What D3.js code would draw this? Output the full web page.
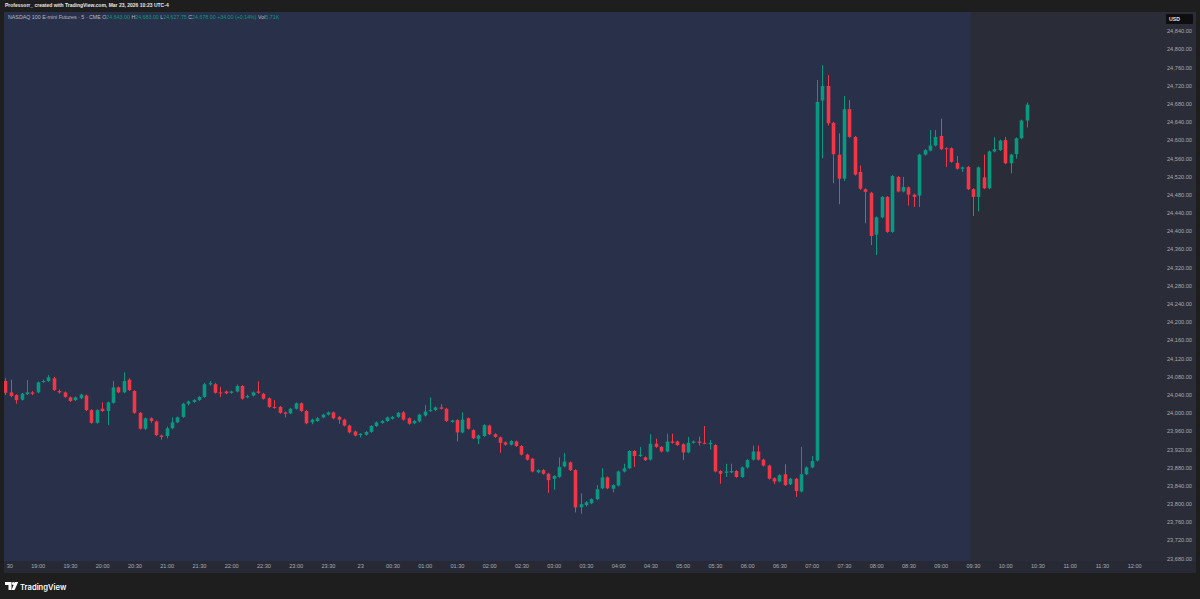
<!DOCTYPE html>
<html>
<head>
<meta charset="utf-8">
<script src="https://cdn.jsdelivr.net/npm/d3@7"></script>
<style>
  body { margin: 0; background: #1e1e1e; }
  svg { display: block; font-family: "Liberation Sans", Arial, sans-serif; }
</style>
</head>
<body>
<div id="chart"></div>
<script>
// 5 minute candles, first bar 18:30 (Mar 22), last bar 10:20 (Mar 23)
var opens = [
  24070, 24045, 24039, 24029, 24041, 24045, 24045, 24068, 24070, 24076,
  24048, 24045, 24034, 24028, 24032, 24038, 24006, 23978, 24009, 24004,
  24022, 24056, 24045, 24073, 24048, 24000, 23965, 23988, 23981, 23950,
  23949, 23966, 23979, 23991, 24020, 24024, 24028, 24035, 24063, 24063,
  24045, 24047, 24044, 24047, 24059, 24034, 24038, 24047, 24042, 24032,
  24013, 24013, 24001, 23999, 24009, 24021, 24004, 23979, 23982, 23990,
  23996, 24001, 23991, 23985, 23972, 23959, 23951, 23952, 23958, 23971,
  23978, 23982, 23987, 23991, 24001, 23988, 23977, 23981, 23994, 24004,
  24006, 24012, 24009, 23980, 23984, 23957, 23988, 23962, 23943, 23949,
  23972, 23953, 23946, 23935, 23930, 23937, 23927, 23908, 23899, 23869,
  23874, 23866, 23855, 23859, 23882, 23891, 23874, 23792, 23797, 23801,
  23810, 23834, 23858, 23833, 23840, 23871, 23878, 23916, 23905, 23902,
  23897, 23932, 23925, 23915, 23937, 23937, 23931, 23913, 23934, 23937,
  23934, 23931, 23929, 23872, 23868, 23869, 23872, 23859, 23880, 23897,
  23915, 23897, 23884, 23856, 23849, 23865, 23843, 23855, 23827, 23865,
  23880, 23895, 24687, 24719, 24638, 24568, 24515, 24668, 24607, 24530,
  24492, 24484, 24392, 24430, 24475, 24398, 24519, 24487, 24496, 24480,
  24478, 24568, 24577, 24588, 24609, 24582, 24582, 24550, 24537, 24541,
  24492, 24475, 24518, 24494, 24575, 24578, 24600, 24549, 24569, 24604,
  24643
];
var highs = [
  24076, 24073, 24041, 24044, 24072, 24048, 24069, 24073, 24083, 24079,
  24051, 24047, 24036, 24036, 24042, 24040, 24008, 24008, 24023, 24025,
  24070, 24058, 24089, 24076, 24050, 24002, 23990, 23990, 23983, 23952,
  23970, 23990, 23992, 24022, 24027, 24030, 24037, 24066, 24070, 24066,
  24057, 24049, 24049, 24062, 24061, 24040, 24047, 24069, 24044, 24034,
  24028, 24015, 24003, 24011, 24023, 24023, 24006, 23987, 23991, 23998,
  24003, 24003, 23993, 23987, 23974, 23961, 23955, 23960, 23973, 23981,
  23984, 23992, 23993, 24002, 24004, 23990, 23984, 23998, 24017, 24034,
  24014, 24019, 24011, 23985, 23986, 24001, 23990, 23964, 23952, 23975,
  23974, 23955, 23948, 23937, 23940, 23939, 23929, 23910, 23901, 23876,
  23876, 23868, 23863, 23902, 23912, 23893, 23876, 23823, 23806, 23812,
  23841, 23878, 23860, 23843, 23873, 23888, 23918, 23918, 23925, 23904,
  23953, 23943, 23927, 23954, 23954, 23939, 23933, 23947, 23939, 23948,
  23971, 23940, 23931, 23874, 23888, 23888, 23874, 23882, 23898, 23928,
  23928, 23899, 23886, 23858, 23865, 23887, 23857, 23857, 23925, 23882,
  23905, 24732, 24765, 24743, 24640, 24615, 24697, 24688, 24609, 24544,
  24494, 24486, 24432, 24477, 24477, 24523, 24521, 24519, 24498, 24482,
  24570, 24580, 24622, 24622, 24647, 24584, 24584, 24565, 24542, 24543,
  24494, 24542, 24568, 24577, 24606, 24601, 24607, 24570, 24606, 24645,
  24683
];
var lows = [
  24039, 24034, 24020, 24027, 24039, 24039, 24043, 24066, 24068, 24048,
  24042, 24033, 24024, 24026, 24030, 24004, 23976, 23976, 24002, 23973,
  24020, 24043, 24043, 24048, 23998, 23963, 23962, 23978, 23949, 23941,
  23944, 23964, 23977, 23989, 24016, 24022, 24026, 24033, 24060, 24042,
  24035, 24041, 24042, 24045, 24029, 24032, 24036, 24042, 24029, 24011,
  24009, 23998, 23990, 23997, 24007, 24002, 23975, 23975, 23980, 23988,
  23994, 23986, 23976, 23970, 23955, 23948, 23946, 23950, 23956, 23969,
  23976, 23980, 23985, 23989, 23983, 23974, 23975, 23979, 23992, 24002,
  24004, 24007, 23980, 23978, 23937, 23955, 23963, 23942, 23931, 23947,
  23951, 23945, 23912, 23928, 23928, 23925, 23906, 23895, 23869, 23867,
  23864, 23824, 23831, 23857, 23880, 23872, 23781, 23778, 23794, 23799,
  23808, 23832, 23832, 23825, 23838, 23869, 23876, 23881, 23903, 23894,
  23895, 23923, 23913, 23913, 23932, 23927, 23896, 23911, 23932, 23928,
  23931, 23919, 23869, 23844, 23859, 23867, 23857, 23857, 23877, 23895,
  23895, 23882, 23853, 23843, 23847, 23839, 23841, 23815, 23825, 23863,
  23878, 23893, 24560, 24632, 24505, 24459, 24510, 24605, 24522, 24490,
  24417, 24369, 24347, 24428, 24396, 24396, 24485, 24485, 24456, 24453,
  24453, 24566, 24575, 24586, 24578, 24541, 24550, 24535, 24530, 24490,
  24433, 24443, 24492, 24492, 24573, 24576, 24547, 24527, 24559, 24602,
  24627.75
];
var closes = [
  24044, 24037, 24028, 24042, 24045, 24042, 24067, 24070, 24078, 24050,
  24045, 24035, 24026, 24034, 24040, 24006, 23978, 24006, 24004, 24023,
  24056, 24045, 24070, 24050, 24000, 23965, 23988, 23982, 23951, 23947,
  23966, 23979, 23990, 24020, 24025, 24028, 24035, 24063, 24065, 24044,
  24044, 24043, 24047, 24059, 24031, 24037, 24045, 24044, 24031, 24013,
  24012, 24000, 23998, 24009, 24021, 24004, 23977, 23985, 23988, 23996,
  24001, 23988, 23985, 23972, 23957, 23950, 23954, 23958, 23971, 23979,
  23982, 23990, 23991, 24000, 23985, 23976, 23982, 23996, 24003, 24006,
  24012, 24009, 23982, 23983, 23957, 23985, 23965, 23944, 23950, 23973,
  23953, 23947, 23934, 23930, 23938, 23927, 23908, 23897, 23871, 23874,
  23866, 23852, 23861, 23881, 23893, 23874, 23792, 23799, 23803, 23810,
  23832, 23858, 23834, 23841, 23871, 23878, 23916, 23905, 23908, 23896,
  23932, 23925, 23915, 23937, 23934, 23929, 23913, 23934, 23937, 23934,
  23933, 23934, 23871, 23866, 23871, 23872, 23859, 23880, 23896, 23915,
  23897, 23884, 23855, 23849, 23863, 23841, 23855, 23828, 23865, 23880,
  23894, 24684, 24719, 24637, 24569, 24515, 24668, 24607, 24524, 24493,
  24486, 24389, 24430, 24475, 24398, 24521, 24487, 24497, 24480, 24475,
  24568, 24578, 24588, 24607, 24580, 24580, 24552, 24537, 24540, 24492,
  24475, 24540, 24494, 24575, 24580, 24599, 24549, 24568, 24604, 24643,
  24678
];

var priceTicks = [23680, 23720, 23760, 23800, 23840, 23880, 23920, 23960, 24000, 24040,
  24080, 24120, 24160, 24200, 24240, 24280, 24320, 24360, 24400, 24440,
  24480, 24520, 24560, 24600, 24640, 24680, 24720, 24760, 24800, 24840];

// [day, "HH:MM", label]
var timeTicks = [
  [22, "18:30", "18:30"], [22, "19:00", "19:00"], [22, "19:30", "19:30"], [22, "20:00", "20:00"],
  [22, "20:30", "20:30"], [22, "21:00", "21:00"], [22, "21:30", "21:30"], [22, "22:00", "22:00"],
  [22, "22:30", "22:30"], [22, "23:00", "23:00"], [22, "23:30", "23:30"], [23, "00:00", "23"],
  [23, "00:30", "00:30"], [23, "01:00", "01:00"], [23, "01:30", "01:30"], [23, "02:00", "02:00"],
  [23, "02:30", "02:30"], [23, "03:00", "03:00"], [23, "03:30", "03:30"], [23, "04:00", "04:00"],
  [23, "04:30", "04:30"], [23, "05:00", "05:00"], [23, "05:30", "05:30"], [23, "06:00", "06:00"],
  [23, "06:30", "06:30"], [23, "07:00", "07:00"], [23, "07:30", "07:30"], [23, "08:00", "08:00"],
  [23, "08:30", "08:30"], [23, "09:00", "09:00"], [23, "09:30", "09:30"], [23, "10:00", "10:00"],
  [23, "10:30", "10:30"], [23, "11:00", "11:00"], [23, "11:30", "11:30"], [23, "12:00", "12:00"]
];

var title = "NASDAQ 100 E-mini Futures \u00b7 5 \u00b7 CME";
var ohlcLabels = ["O", "H", "L", "C"];
var ohlcValues = ["24,643.00", "24,683.00", "24,627.75", "24,678.00"];
var changeText = "+34.00 (+0.14%)";
var volText = "5.71K";

var W = 1200, H = 599;
var pane = { left: 4, top: 12, right: 1196, plotBottom: 561, axisBottom: 573 };

var upColor = "#089981", downColor = "#f23645";

var svg = d3.select("#chart").append("svg")
  .attr("width", W).attr("height", H);

svg.append("rect").attr("width", W).attr("height", H).attr("fill", "#1e1e1e");

function mkDate(day, hm) {
  var p = hm.split(":");
  return new Date(2026, 2, day, +p[0], +p[1]);
}

var start = mkDate(22, "18:30");
var times = opens.map(function(d, i) { return d3.timeMinute.offset(start, 5 * i); });

var x = d3.scaleTime()
  .domain([start, mkDate(23, "12:00")])
  .range([5.45, 1134.2]);

var y = d3.scaleLinear()
  .domain([23680, 24840])
  .range([558.3, 31]);

// pane backgrounds
svg.append("rect")
  .attr("x", pane.left).attr("y", pane.top)
  .attr("width", pane.right - pane.left).attr("height", pane.axisBottom - pane.top)
  .attr("fill", "#2a2d38");

var step = x(times[1]) - x(times[0]);
var rthStart = mkDate(23, "09:30");
svg.append("rect")
  .attr("x", pane.left).attr("y", pane.top)
  .attr("width", x(rthStart) - step / 2 - pane.left)
  .attr("height", pane.plotBottom - pane.top)
  .attr("fill", "#293049");

svg.append("rect")
  .attr("x", pane.left).attr("y", pane.plotBottom)
  .attr("width", pane.right - pane.left).attr("height", pane.axisBottom - pane.plotBottom)
  .attr("fill", "#272a35");

svg.append("clipPath").attr("id", "paneClip")
  .append("rect")
  .attr("x", pane.left).attr("y", pane.top)
  .attr("width", pane.right - pane.left).attr("height", pane.axisBottom - pane.top);

// candles
var bodyW = 3.6;
var candles = svg.append("g").attr("clip-path", "url(#paneClip)")
  .selectAll("g")
  .data(opens.map(function(o, i) {
    return { t: times[i], o: o, h: highs[i], l: lows[i], c: closes[i] };
  }))
  .enter().append("g")
  .attr("fill", function(d) { return d.c >= d.o ? upColor : downColor; })
  .attr("stroke", function(d) { return d.c >= d.o ? upColor : downColor; });

candles.append("line")
  .attr("x1", function(d) { return Math.round(x(d.t)) + 0.5; })
  .attr("x2", function(d) { return Math.round(x(d.t)) + 0.5; })
  .attr("y1", function(d) { return y(d.h); })
  .attr("y2", function(d) { return y(d.l); })
  .attr("stroke-width", 1);

candles.append("rect")
  .attr("stroke", "none")
  .attr("x", function(d) { return Math.round(x(d.t)) + 0.5 - bodyW / 2; })
  .attr("y", function(d) { return y(Math.max(d.o, d.c)); })
  .attr("width", bodyW)
  .attr("height", function(d) { return Math.max(1, Math.abs(y(d.o) - y(d.c))); });

// price axis
var yAxis = svg.append("g")
  .attr("transform", "translate(1163,0)")
  .call(d3.axisRight(y).tickValues(priceTicks).tickSize(0).tickPadding(4)
    .tickFormat(d3.format(",.2f")));
yAxis.select(".domain").remove();
yAxis.selectAll("text")
  .attr("fill", "#a7aab3")
  .style("font-size", "5.6px")
  .style("font-family", "Liberation Sans, Arial, sans-serif");

// currency box
svg.append("rect").attr("x", 1166).attr("y", 14).attr("width", 27).attr("height", 10)
  .attr("rx", 1).attr("fill", "#0e0e0e");
svg.append("text").attr("x", 1169).attr("y", 21)
  .attr("fill", "#e6e6e6").style("font-size", "5.2px").style("font-weight", "bold")
  .text("USD");

// time axis (clip rect is in the axis group's own coordinates)
svg.append("clipPath").attr("id", "axisClip")
  .append("rect").attr("x", 6.5).attr("y", 0)
  .attr("width", 1150).attr("height", pane.axisBottom - pane.plotBottom);

var tickDates = timeTicks.map(function(t) { return mkDate(t[0], t[1]); });
var tickLabelMap = new Map(timeTicks.map(function(t, i) { return [+tickDates[i], t[2]]; }));
var xAxis = svg.append("g")
  .attr("transform", "translate(0," + pane.plotBottom + ")")
  .attr("clip-path", "url(#axisClip)")
  .call(d3.axisBottom(x).tickValues(tickDates).tickSize(0).tickPadding(3.5)
    .tickFormat(function(d) { return tickLabelMap.get(+d); }));
xAxis.select(".domain").remove();
xAxis.selectAll("text")
  .attr("fill", "#a7aab3")
  .style("font-size", "5.6px")
  .style("font-family", "Liberation Sans, Arial, sans-serif");

// header lines
svg.append("text").attr("x", 5).attr("y", 7)
  .attr("fill", "#e8e8e8").style("font-size", "5px").style("font-weight", "bold")
  .text("Professorr_ created with TradingView.com, Mar 23, 2026 10:23 UTC-4");

var legend = svg.append("text").attr("x", 8).attr("y", 19)
  .style("font-size", "5.3px").attr("fill", "#b8bbc4");
legend.append("tspan").text(title + "  ");
ohlcLabels.forEach(function(l, i) {
  legend.append("tspan").attr("fill", "#b8bbc4").text(l);
  legend.append("tspan").attr("fill", upColor).text(ohlcValues[i] + " ");
});
legend.append("tspan").attr("fill", upColor).text(changeText + "  ");
legend.append("tspan").attr("fill", "#b8bbc4").text("Vol");
legend.append("tspan").attr("fill", upColor).text(volText);

// TradingView logo
var logo = svg.append("g").attr("fill", "#ffffff");
logo.append("path").attr("d", "M5,582 H11.5 V590 H8.5 V585 H5 Z");
logo.append("circle").attr("cx", 13.4).attr("cy", 583.6).attr("r", 1.5);
logo.append("path").attr("d", "M15,582 H18.2 L14.6,590 H11.4 Z");
svg.append("text").attr("x", 20).attr("y", 590)
  .attr("fill", "#ffffff").style("font-size", "7.6px").style("font-weight", "600")
  .style("font-family", "Inter, Lato, sans-serif")
  .text("TradingView");
</script>
</body>
</html>
